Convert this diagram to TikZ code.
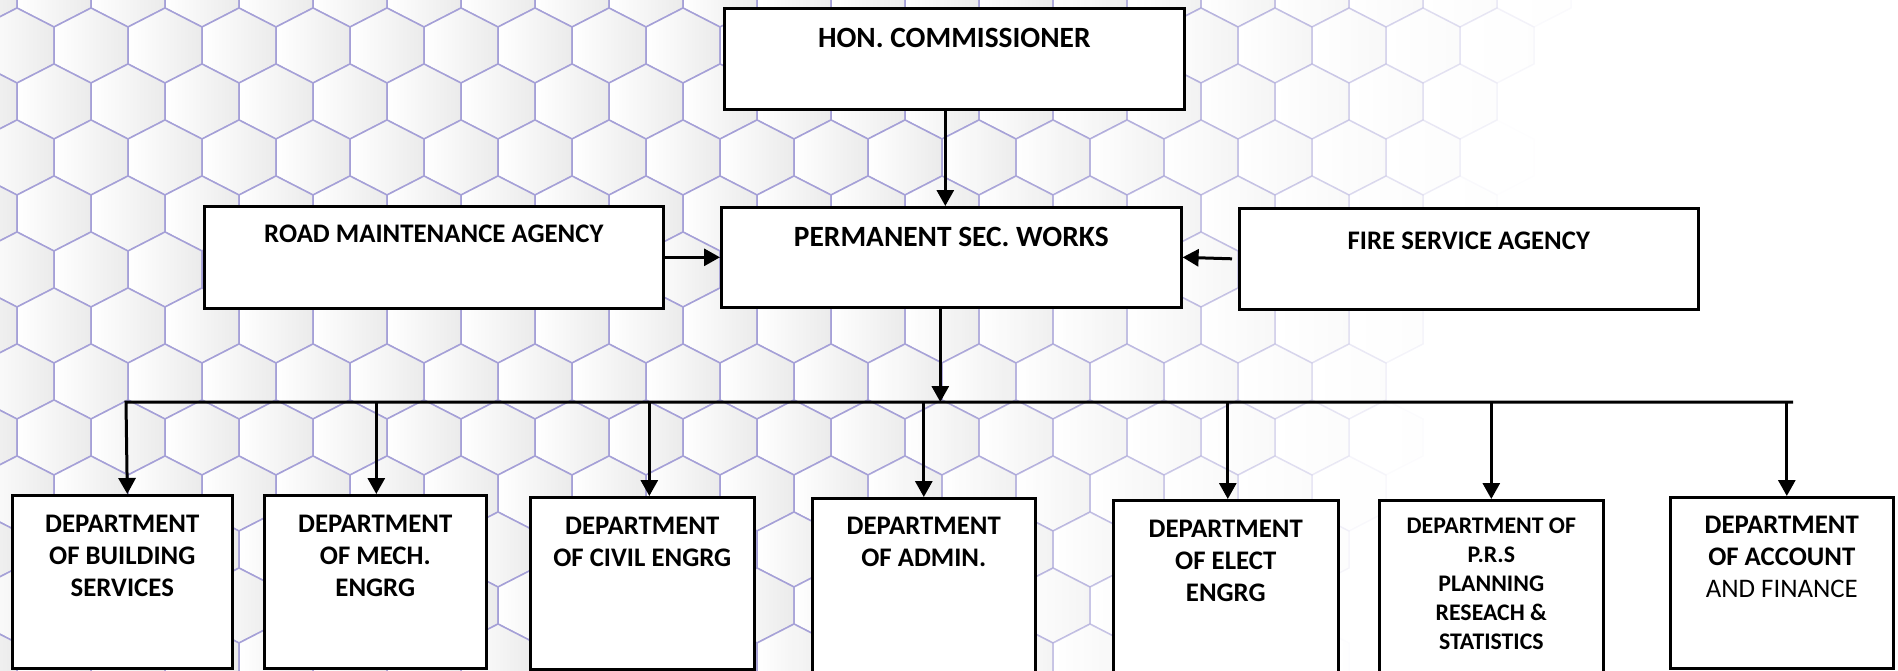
\documentclass[tikz,border=0pt]{standalone}
\usepackage{fontspec}
\setmainfont{Carlito}
\usepackage{tikz}
\usetikzlibrary{arrows.meta,positioning,calc}
\definecolor{myhexline}{RGB}{165,160,215}

\begin{document}
\begin{tikzpicture}[
  x=1pt, y=-1pt,
  hexcell/.style={
    draw=myhexline,
    line width=1.5pt,
    left color=white,
    right color=black!8
    },
  mybox/.style={
    draw,
    line width=2.6pt,
    fill=white,
    anchor=north west,
    inner sep=0pt
    },
  mytext/.style={
    inner sep=0pt,
    align=center,
    font=\bfseries\fontsize{26.8}{32}\selectfont
    },
  bigtext/.style={
    mytext,
    font=\bfseries\fontsize{29.4}{34}\selectfont
    },
  myarrow/.style={
    line width=3pt,
    -{Triangle[length=16pt,width=17pt]}
    }
]

\useasboundingbox (0,0) rectangle (1898,670);

% background pattern
\begin{scope}
\clip (0,0) rectangle (1898,670);
\foreach \r in {0,...,12}{
  \foreach \c in {0,...,26}{
    \pgfmathsetmacro{\cx}{\c*74 + mod(\r,2)*37 - 20}
    \pgfmathsetmacro{\cy}{\r*56 - 10}
    \pgfmathsetmacro{\op}{min(1,max(0,(1560-\cx-0.35*\cy)/560))}
    \path[hexcell, draw opacity=\op, fill opacity=\op]
      (\cx,\cy-38) -- ++(37,19) -- ++(0,37) -- ++(-37,19)
      -- ++(-37,-19) -- ++(0,-37) -- cycle;
  }
}
\end{scope}

% top rows
\node[mybox, minimum width=460pt, minimum height=101pt] (hon) at (723,7) {};
\node[mybox, minimum width=459pt, minimum height=102pt] (road) at (203,205) {};
\node[mybox, minimum width=460pt, minimum height=100pt] (perm) at (720,206) {};
\node[mybox, minimum width=459pt, minimum height=101pt] (fire) at (1238,207) {};

\node[bigtext, below=21pt of hon.north] (thon) {HON. COMMISSIONER};
\node[mytext, below=20pt of road.north] (troad) {ROAD MAINTENANCE AGENCY};
\node[bigtext, below=21pt of perm.north] (tperm) {PERMANENT SEC. WORKS};
\node[mytext, below=25pt of fire.north] (tfire) {FIRE SERVICE AGENCY};

% departments
\node[mybox, minimum width=220pt, minimum height=173pt] (dbuild) at (11,494) {};
\node[mybox, minimum width=222pt, minimum height=173pt] (dmech) at (263,494) {};
\node[mybox, minimum width=224pt, minimum height=172pt] (dcivil) at (529,496) {};
\node[mybox, minimum width=223pt, minimum height=185pt] (dadmin) at (811,497) {};
\node[mybox, minimum width=225pt, minimum height=185pt] (delect) at (1112,499) {};
\node[mybox, minimum width=224pt, minimum height=185pt] (dprs) at (1378,499) {};
\node[mybox, minimum width=223pt, minimum height=171pt] (dacct) at (1669,496) {};

\node[mytext, below=21pt of dbuild.north] (tbuild) {DEPARTMENT\\OF BUILDING\\SERVICES};
\node[mytext, below=21pt of dmech.north] (tmech) {DEPARTMENT\\OF MECH.\\ENGRG};
\node[mytext, below=21pt of dcivil.north] (tcivil) {DEPARTMENT\\OF CIVIL ENGRG};
\node[mytext, below=20pt of dadmin.north] (tadmin) {DEPARTMENT\\OF ADMIN.};
\node[mytext, below=21pt of delect.north] (telect) {DEPARTMENT\\OF ELECT\\ENGRG};
\node[mytext, below=19pt of dprs.north,
      font=\bfseries\fontsize{23.8}{29}\selectfont] (tprs)
  {DEPARTMENT OF\\P.R.S\\PLANNING\\RESEACH \&\\STATISTICS};
\node[mytext, below=20pt of dacct.north] (tacct) {DEPARTMENT\\OF ACCOUNT\\{\mdseries AND FINANCE}};

% connectors
\coordinate (busL) at (126,402);
\coordinate (busR) at (1793,402);

\draw[myarrow] ($(hon.south)+(-9,0)$) -- ($(perm.north)+(-6,0)$);
\draw[myarrow] (road.east) -- (perm.west);
\draw[myarrow] ([xshift=-6pt]fire.west) -- (perm.east);
\draw[myarrow] ($(perm.south)+(-11,0)$) -- ($(perm.south |- busL)+(-11,0)$);

\draw[myarrow] (busR) -- (busL) -- ($(dbuild.north)+(5,0)$);
\foreach \Dept/\Shift in {dmech/1, dcivil/7, dadmin/0, delect/2, dprs/0, dacct/5}
  \draw[myarrow] ($(\Dept.north |- busL)+(\Shift,0)$) -- ($(\Dept.north)+(\Shift,0)$);
\end{tikzpicture}
\end{document}
